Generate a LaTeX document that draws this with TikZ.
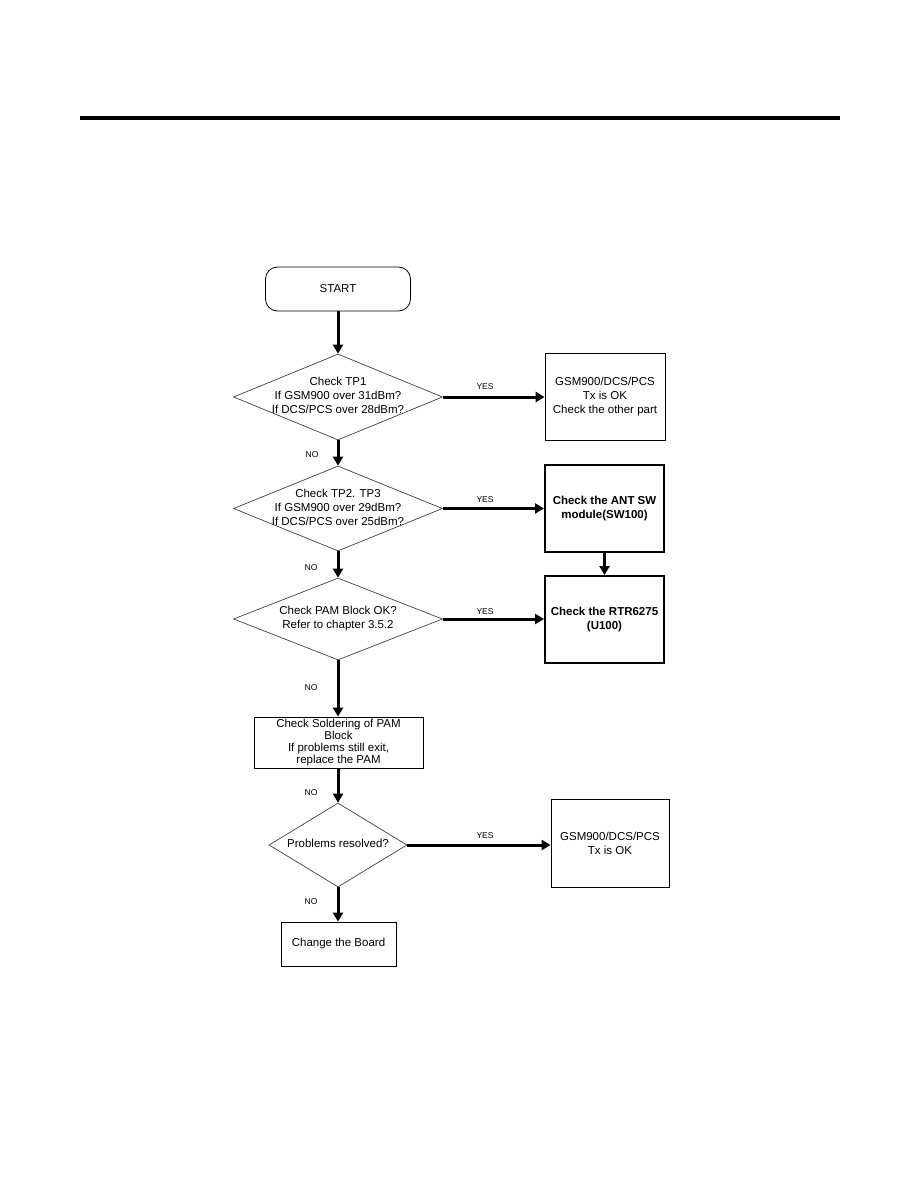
\documentclass[tikz,border=0pt]{standalone}
\usepackage{fontspec}
\setmainfont{Liberation Sans}
\usetikzlibrary{arrows.meta, shapes.geometric, positioning}

% text of a decision, kept out of the diamond's size
\newcommand{\dtext}[1]{\makebox[0pt]{\begin{tabular}{@{}c@{}}#1\end{tabular}}}

\begin{document}
\begin{tikzpicture}[
    x=1pt, y=-1pt,
    >={Triangle[length=9pt, width=10pt]},
    every node/.style={font=\fontsize{11.5}{14}\selectfont},
    % --- node styles ---
    startbox/.style={draw, line width=0.8pt, rounded corners=12pt,
                     minimum width=145pt, minimum height=44pt, inner sep=0pt},
    decision/.style={diamond, draw=black!75, line width=0.7pt, inner sep=0pt,
                     minimum width=209pt, minimum height=86pt},
    plainbox/.style={draw, line width=0.8pt, inner sep=0pt, align=center},
    boldbox/.style={draw, line width=2pt, inner sep=0pt, align=center,
                    font=\bfseries\fontsize{11.5}{14}\selectfont},
    % --- annotation styles ---
    lbl/.style={font=\fontsize{8.5}{9}\selectfont, inner sep=0pt},
    arr/.style={->, line width=3pt},
]
\useasboundingbox (0,0) rectangle (918,1188);

% ===== HEADER RULE ==========================================================
\draw[line width=4pt] (80,118) -- (840,118);

% ===== MAIN COLUMN ==========================================================
\node[startbox] (start) at (338,289) {START};

\node[decision] (tpone) at (338,397)
    {\dtext{Check TP1\\If GSM900 over 31dBm?\\If DCS/PCS over 28dBm?}};

\node[decision, minimum height=85pt] (tptwo) at (338,508.5)
    {\dtext{Check TP2. TP3\\If GSM900 over 29dBm?\\If DCS/PCS over 25dBm?}};

\node[decision, minimum height=82pt] (pam) at (338,619)
    {\dtext{Check PAM Block OK?\\Refer to chapter 3.5.2}};

\node[plainbox, minimum width=169pt, minimum height=51pt,
      font=\fontsize{11.5}{11.7}\selectfont] (solder) at (338.5,742.5)
    {Check Soldering of PAM\\Block\\If problems still exit,\\replace the PAM};

\node[decision, minimum width=138pt, minimum height=84pt] (resolved) at (338,845)
    {\dtext{Problems resolved?}};

\node[plainbox, minimum width=115pt, minimum height=44pt] (board) at (338.5,944)
    {Change the Board};

% ===== RIGHT COLUMN =========================================================
\node[plainbox, minimum width=120pt, minimum height=87pt] (okone) at (605,397)
    {GSM900/DCS/PCS\\Tx is OK\\Check the other part};

\node[boldbox, minimum width=119pt, minimum height=87pt] (antsw) at (604.5,508.5)
    {Check the ANT SW\\module(SW100)};

\node[boldbox, minimum width=119pt, minimum height=87pt] (rtr) at (604.5,619.5)
    {Check the RTR6275\\(U100)};

\node[plainbox, minimum width=118pt, minimum height=88pt] (oktwo) at (610,843)
    {GSM900/DCS/PCS\\Tx is OK};

% ===== LABELS ===============================================================
\node[lbl] (noone)   at (312,455) {NO};
\node[lbl] (notwo)   at (311,568) {NO};
\node[lbl] (nothree) at (311,688) {NO};
\node[lbl] (nofour)  at (311,793) {NO};
\node[lbl] (nofive)  at (311,902) {NO};

\node[lbl] (yesone)   at (485,387) {YES};
\node[lbl] (yestwo)   at (485,500) {YES};
\node[lbl] (yesthree) at (485,612) {YES};
\node[lbl] (yesfour)  at (485,836) {YES};

% ===== ARROWS ===============================================================
\draw[arr] (start.south)    -- (tpone.north);
\draw[arr] (tpone.south)    -- (tptwo.north);
\draw[arr] (tptwo.south)    -- (pam.north);
\draw[arr] (pam.south)      -- (solder.north -| pam.south);
\draw[arr] (solder.south -| pam.south) -- (resolved.north);
\draw[arr] (resolved.south) -- (board.north -| resolved.south);

\draw[arr] (tpone.east)    -- (okone.west);
\draw[arr] (tptwo.east)    -- (antsw.west);
\draw[arr] (pam.east)      -- (rtr.west |- pam.east);
\draw[arr] (resolved.east) -- (oktwo.west |- resolved.east);
\draw[arr] (antsw.south)   -- (rtr.north);

\end{tikzpicture}
\end{document}
